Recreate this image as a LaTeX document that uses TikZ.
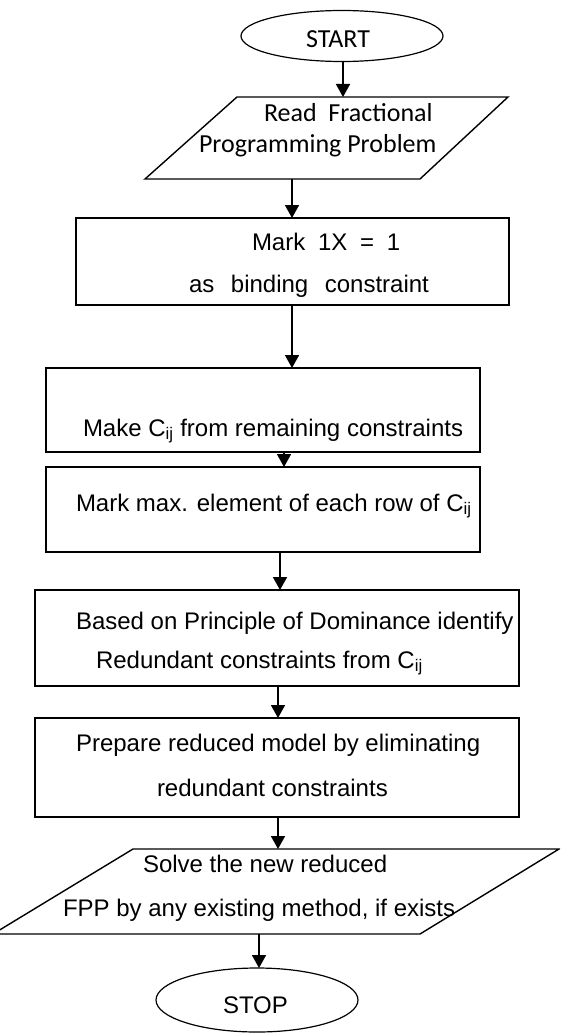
\documentclass[tikz,border=0pt]{standalone}
\usepackage{fontspec}
\setmainfont{Liberation Sans}
\newfontfamily\calibrifont{Carlito}
\usetikzlibrary{arrows.meta,shapes.geometric}
\tikzset{
  boxshape/.style={draw, line width=1.5pt, rectangle, inner sep=0pt, outer sep=0pt},
  ovalshape/.style={draw, line width=1.2pt, ellipse, inner sep=0pt, outer sep=0pt},
  paraline/.style={draw, line width=1.4pt, line join=miter},
  arr/.style={line width=1.7pt, -{Triangle[width=14pt,length=13pt]}},
  txt/.style={anchor=base west, inner sep=0pt, outer sep=0pt, font=\fontsize{24}{28}\selectfont},
  ctxt/.style={anchor=base west, inner sep=0pt, outer sep=0pt, font=\calibrifont\fontsize{26}{30}\selectfont},
}
\begin{document}
\begin{tikzpicture}[x=1pt,y=-1pt]
\useasboundingbox (0,0) rectangle (560,1035);
\clip (0,0) rectangle (560,1035);
% shapes
\node[ovalshape, minimum width=202pt, minimum height=51pt] (start) at (342,36) {};
\path[paraline] (237,97) -- (508,97) -- (420,179) -- (145,179) -- cycle;
\coordinate (p1top) at (343,97);
\coordinate (p1bot) at (292,179);
\node[boxshape, minimum width=433pt, minimum height=87pt] (b2) at (292.5,261.5) {};
\node[boxshape, minimum width=434pt, minimum height=84pt] (b3) at (263,410) {};
\node[boxshape, minimum width=434pt, minimum height=85pt] (b4) at (263,509.5) {};
\node[boxshape, minimum width=484pt, minimum height=96pt] (b5) at (277,638) {};
\node[boxshape, minimum width=484pt, minimum height=99pt] (b6) at (277,767.5) {};
\path[paraline] (133,849) -- (559,849) -- (420,934) -- (-7,934) -- cycle;
\coordinate (p2top) at (278,849);
\coordinate (p2bot) at (259,934);
\node[ovalshape, minimum width=202pt, minimum height=64pt] (stop) at (257,1000) {};
% x positions of connectors
\coordinate (xa) at (292,0);
\coordinate (xb) at (284,0);
\coordinate (xc) at (280,0);
\coordinate (xd) at (278,0);
% connectors
\draw[arr] (start.south -| p1top) -- (p1top);
\draw[arr] (p1bot) -- (b2.north -| p1bot);
\draw[arr] (b2.south -| xa) -- (b3.north -| xa);
\draw[arr] (b3.south -| xb) -- (b4.north -| xb);
\draw[arr] (b4.south -| xc) -- (b5.north -| xc);
\draw[arr] (b5.south -| xd) -- (b6.north -| xd);
\draw[arr] (b6.south -| xd) -- (p2top);
\draw[arr] (p2bot) -- (stop.north -| p2bot);
% texts
\node[ctxt] (tstart) at (306,48) {START};
\node[ctxt] (tread) at (264,122) {Read\hspace{0.45em}Fractional};
\node[ctxt] (tprog) at (199,153) {Programming Problem};
\node[txt] (tmark) at (252,250) {Mark\hspace{0.53em}1X\hspace{0.53em}=\hspace{0.53em}1};
\node[txt] (tbind) at (189,292) {as\hspace{0.69em}binding\hspace{0.69em}constraint};
\node[txt] (tmake) at (83,436) {Make C\textsubscript{ij} from remaining constraints};
\node[txt] (tmax) at (76,511) {Mark max. element of each row of C\textsubscript{ij}};
\node[txt] (tbased) at (76,629) {Based on Principle of Dominance identify};
\node[txt] (tredu) at (96,668) {Redundant constraints from C\textsubscript{ij}};
\node[txt] (tprep) at (76,751) {Prepare reduced model by eliminating};
\node[txt] (tredc) at (157,796) {redundant constraints};
\node[txt] (tsolve) at (143,872) {Solve the new reduced};
\node[txt] (tfpp) at (63,916) {FPP by any existing method, if exists};
\node[txt] (tstop) at (223,1013) {STOP};
\end{tikzpicture}
\end{document}
